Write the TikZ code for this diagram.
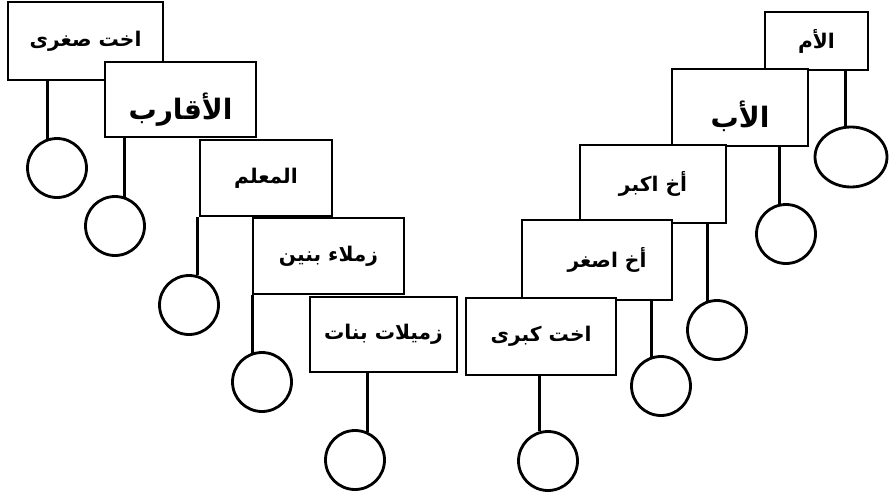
\documentclass[tikz,border=0pt]{standalone}
\usepackage{fontspec}
\usetikzlibrary{shapes.geometric}
\newfontfamily\arabicfont[Script=Arabic]{DejaVu Sans}
\TeXXeTstate=1
\newcommand{\rtltext}[1]{\beginR #1\endR}
\begin{document}
\begin{tikzpicture}[x=0.02cm, y=-0.02cm,
  box/.style={draw=black, fill=white, line width=1.6pt, inner sep=0pt,
    font=\arabicfont\bfseries\fontsize{11.5}{13}\selectfont},
  bigbox/.style={box, font=\arabicfont\bfseries\fontsize{16}{18}\selectfont,
    text height=0.8cm, text depth=0pt},
  ball/.style={draw=black, circle, line width=1.6pt, minimum size=1.18cm, inner sep=0pt},
  stem/.style={draw=black, line width=1.6pt}]
\useasboundingbox (0, 0) rectangle (893, 497);
% left side
\node [box, minimum width=3.10cm, minimum height=1.56cm] (sister) at (85.5, 41) {\rtltext{اخت صغرى}};
\node [bigbox, minimum width=3.02cm, minimum height=1.50cm] (relatives) at (180.5, 99.5) {\rtltext{الأقارب}};
\node [box, minimum width=2.64cm, minimum height=1.52cm] (teacher) at (266, 178) {\rtltext{المعلم}};
\node [box, minimum width=3.02cm, minimum height=1.52cm] (boys) at (328.5, 256) {\rtltext{زملاء بنين}};
\node [box, minimum width=2.94cm, minimum height=1.50cm] (girls) at (383.5, 334.5) {\rtltext{زميلات بنات}};
% right side
\node [box, minimum width=2.06cm, minimum height=1.16cm] (mother) at (816.5, 41) {\rtltext{الأم}};
\node [bigbox, minimum width=2.72cm, minimum height=1.54cm] (father) at (740, 107.5) {\rtltext{الأب}};
\node [box, minimum width=2.92cm, minimum height=1.56cm] (elderbro) at (653, 184) {\rtltext{أخ اكبر}};
\node [box, minimum width=3.00cm, minimum height=1.60cm] (youngbro) at (597, 260) {\hspace{0.4cm}\rtltext{أخ اصغر}};
\node [box, minimum width=3.00cm, minimum height=1.54cm] (eldersis) at (541, 336.5) {\rtltext{اخت كبرى}};

\node [ball] (c1) at (57, 168) {};
\node [ball] (c2) at (115, 226) {};
\node [ball] (c3) at (189, 305) {};
\node [ball] (c4) at (262, 382) {};
\node [ball] (c5) at (355, 460) {};
\node [ball] (c6) at (548, 461) {};
\node [ball] (c7) at (661, 386) {};
\node [ball] (c8) at (717, 330) {};
\node [ball] (c9) at (786, 234) {};
\node [ball, ellipse, minimum width=1.44cm, minimum height=1.20cm] (c10) at (851, 157) {};

\draw [stem] (c1.108) -- (c1.108 |- sister.south);
\draw [stem] (c2.72) -- (c2.72 |- relatives.south);
\draw [stem] (c3.74) -- (c3.74 |- teacher.south);
\draw [stem] (c4.108) -- (c4.108 |- boys.south);
\draw [stem] (c5.66) -- (c5.66 |- girls.south);
\draw [stem] (c6.106) -- (c6.106 |- eldersis.south);
\draw [stem] (c7.108) -- (c7.108 |- youngbro.south);
\draw [stem] (c8.108) -- (c8.108 |- elderbro.south);
\draw [stem] (c9.102) -- (c9.102 |- father.south);
\draw [stem] (c10.100) -- (c10.100 |- mother.south);
\end{tikzpicture}
\end{document}
